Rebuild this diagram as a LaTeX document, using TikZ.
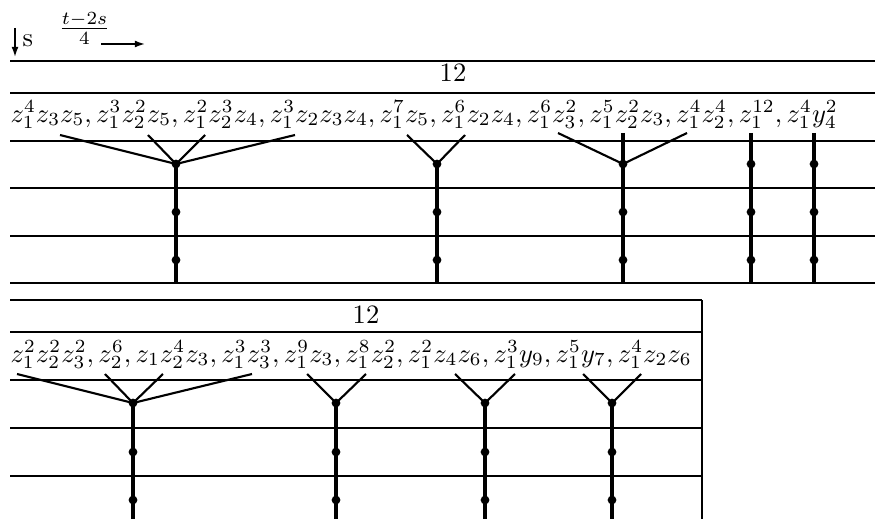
\documentclass[tikz,border=0pt]{standalone}
\usetikzlibrary{arrows.meta}
\begin{document}
\begin{tikzpicture}[x=0.377pt,y=-0.377pt,
  grid/.style={line width=0.8pt},
  stem/.style={line width=1.2pt},
  branch/.style={line width=0.8pt},
  dot/.style={circle,fill,inner sep=0pt,minimum size=3.3pt},
  lbl/.style={inner sep=0pt},
  arr/.style={line width=0.6pt,-{Latex[length=3.8pt,width=2.6pt]}}]
\useasboundingbox (0,0) rectangle (875,519);
% header
\coordinate (dA) at (15,28);
\coordinate (dB) at (15,57);
\draw[arr] (dA) -- (dB);
\node[lbl,anchor=base west] (s) at (22,47) {s};
\node[lbl,anchor=base] (frac) at (84.5,35.4) {$\frac{t-2s}{4}$};
\coordinate (rA) at (101,44);
\coordinate (rB) at (145,44);
\draw[arr] (rA) -- (rB);
% top table
\foreach \y in {61,93,141,188,236,283} \draw[grid] (10,\y) -- (875,\y);
\node[lbl,anchor=base] (n12a) at (453,82) {12};
\node[lbl,anchor=base west] (rowA) at (10,122)
 {$z_1^4z_3z_5, z_1^3z_2^2z_5, z_1^2z_2^3z_4, z_1^3z_2z_3z_4, z_1^7z_5, z_1^6z_2z_4, z_1^6z_3^2, z_1^5z_2^2z_3, z_1^4z_2^4, z_1^{12}, z_1^4y_4^2$};
% top trees
\foreach \n/\x in {ta/176,tb/437,tc/623,td/751,te/814}{
  \node[dot] (\n1) at (\x,164) {};
  \node[dot] (\n2) at (\x,212) {};
  \node[dot] (\n3) at (\x,260) {};
  \coordinate (\n e) at (\x,283);
  \draw[stem] (\n1.center) -- (\n e);
}
\foreach \i/\x in {1/60,2/148,3/205,4/295}{
  \coordinate (tal\i) at (\x,135);
  \draw[branch] (tal\i) -- (ta1.center);
}
\foreach \i/\x in {1/407,2/465}{
  \coordinate (tbl\i) at (\x,135);
  \draw[branch] (tbl\i) -- (tb1.center);
}
\foreach \i/\x in {1/558,2/687}{
  \coordinate (tcl\i) at (\x,133);
  \draw[branch] (tcl\i) -- (tc1.center);
}
\coordinate (tcl3) at (623,133);
\draw[stem] (tcl3) -- (tc1.center);
\coordinate (tdl) at (751,133);
\draw[stem] (tdl) -- (td1.center);
\coordinate (tel) at (814,133);
\draw[stem] (tel) -- (te1.center);
% bottom table
\foreach \y in {300,332,380,428,476} \draw[grid] (10,\y) -- (702,\y);
\coordinate (bR1) at (702,300);
\coordinate (bR2) at (702,519);
\draw[grid] (bR1) -- (bR2);
\node[lbl,anchor=base] (n12b) at (366,323) {12};
\node[lbl,anchor=base west] (rowB) at (10,362)
 {$z_1^2z_2^2z_3^2, z_2^6, z_1z_2^4z_3, z_1^3z_3^3, z_1^9z_3, z_1^8z_2^2, z_1^2z_4z_6, z_1^3y_9, z_1^5y_7, z_1^4z_2z_6$};
\foreach \n/\x in {ba/133,bb/336,bc/485,bd/612}{
  \node[dot] (\n1) at (\x,403) {};
  \node[dot] (\n2) at (\x,452) {};
  \node[dot] (\n3) at (\x,500) {};
  \coordinate (\n e) at (\x,519);
  \draw[stem] (\n1.center) -- (\n e);
}
\foreach \i/\x in {1/17,2/105,3/163,4/252}{
  \coordinate (bal\i) at (\x,374);
  \draw[branch] (bal\i) -- (ba1.center);
}
\foreach \n/\a/\b in {bb/307/366,bc/455/515,bd/583/641}{
  \coordinate (\n l1) at (\a,374);
  \coordinate (\n l2) at (\b,374);
  \draw[branch] (\n l1) -- (\n1.center);
  \draw[branch] (\n l2) -- (\n1.center);
}
\end{tikzpicture}
\end{document}
